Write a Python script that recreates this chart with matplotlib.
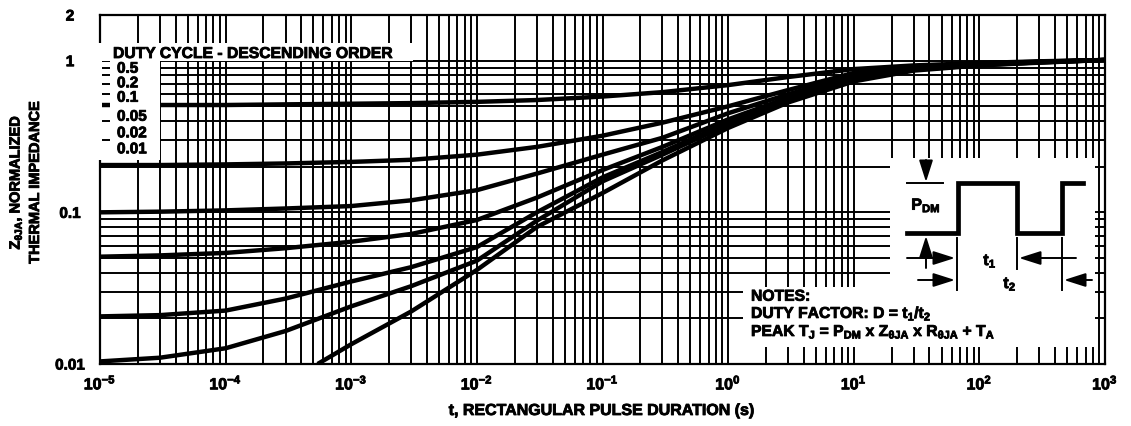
import numpy as np
import matplotlib
matplotlib.use("Agg")
import matplotlib.pyplot as plt
from matplotlib.ticker import LogLocator, NullFormatter
from matplotlib.patches import Rectangle, FancyArrowPatch
from matplotlib.lines import Line2D
import matplotlib.patheffects as pe

plt.rcParams['font.family'] = ['Liberation Sans', 'DejaVu Sans']
plt.rcParams['font.weight'] = 'bold'
plt.rcParams['mathtext.fontset'] = 'custom'
plt.rcParams['mathtext.rm'] = 'Liberation Sans:bold'
plt.rcParams['mathtext.bf'] = 'Liberation Sans:bold'
plt.rcParams['mathtext.it'] = 'Liberation Sans:bold'

# ---------------- data ----------------
t = [1e-5, 3e-5, 1e-4, 3e-4, 1e-3, 3e-3, 1e-2, 3e-2, 0.1, 0.3, 1, 3, 10, 30, 100, 300, 1000]
z_d050 = [0.51, 0.51, 0.51, 0.515, 0.52, 0.525, 0.535, 0.55, 0.58, 0.62, 0.69, 0.78, 0.88, 0.93, 0.965, 0.99, 1.01]
z_d020 = [0.205, 0.205, 0.207, 0.21, 0.215, 0.222, 0.24, 0.27, 0.32, 0.39, 0.50, 0.64, 0.83, 0.91, 0.955, 0.985, 1.01]
z_d010 = [0.100, 0.101, 0.103, 0.106, 0.11, 0.12, 0.14, 0.18, 0.24, 0.31, 0.45, 0.60, 0.80, 0.895, 0.95, 0.98, 1.01]
z_d005 = [0.051, 0.052, 0.054, 0.058, 0.064, 0.072, 0.089, 0.125, 0.19, 0.27, 0.41, 0.57, 0.78, 0.885, 0.945, 0.98, 1.01]
z_d002 = [0.0206, 0.021, 0.0225, 0.027, 0.035, 0.0435, 0.059, 0.10, 0.17, 0.25, 0.39, 0.55, 0.76, 0.875, 0.94, 0.975, 1.01]
z_d001 = [0.0104, 0.011, 0.0127, 0.0165, 0.024, 0.0326, 0.048, 0.088, 0.16, 0.24, 0.38, 0.54, 0.75, 0.87, 0.935, 0.975, 1.01]
t_single = [5.4e-4, 1e-3, 3e-3, 1e-2, 3e-2, 0.1, 0.3, 1, 3, 10, 30, 100, 300, 1000]
z_single = [0.01, 0.0135, 0.0222, 0.0417, 0.08, 0.134, 0.22, 0.36, 0.53, 0.73, 0.86, 0.93, 0.97, 1.01]

duty_labels = ['0.5', '0.2', '0.1', '0.05', '0.02', '0.01']
x_exponents = [-5, -4, -3, -2, -1, 0, 1, 2, 3]
y_ticks = [0.01, 0.1, 1, 2]
y_ticklabels = ['0.01', '0.1', '1', '2']

# ---------------- figure ----------------
W, H = 1131, 426
fig = plt.figure(figsize=(W / 100, H / 100), dpi=100)
ax = fig.add_axes([100 / W, 1 - 364 / H, 1005 / W, 349 / H])

ax.set_xscale('log')
ax.set_yscale('log')
ax.set_xlim(1e-5, 1e3)
ax.set_ylim(0.01, 2)

for z in [z_d050, z_d020, z_d010, z_d005, z_d002, z_d001]:
    ax.plot(t, z, color='black', lw=3.2, zorder=3, solid_capstyle='butt')
ax.plot(t_single, z_single, color='black', lw=3.2, zorder=3, solid_capstyle='butt')

PE = [pe.withStroke(linewidth=0.6, foreground='black')]

ax.set_xticks([10.0 ** k for k in x_exponents])
ax.set_xticklabels([rf'$\mathbf{{10^{{{k}}}}}$' for k in x_exponents], fontsize=11.5)
ax.xaxis.set_minor_locator(LogLocator(base=10, subs=np.arange(2, 10), numticks=100))
ax.xaxis.set_minor_formatter(NullFormatter())
ax.set_yticks(y_ticks)
ax.set_yticklabels(y_ticklabels, fontsize=11, fontweight='bold')
ax.yaxis.set_minor_locator(LogLocator(base=10, subs=np.arange(2, 10), numticks=100))
ax.yaxis.set_minor_formatter(NullFormatter())
ax.tick_params(which='both', length=0)
ax.tick_params(axis='x', pad=7)
ax.tick_params(axis='y', pad=21.6)
for lab in ax.get_yticklabels():
    lab.set_horizontalalignment('center')
    lab.set_path_effects(PE)
for lab in ax.get_xticklabels():
    lab.set_path_effects(PE)
ax.grid(True, which='both', color='black', lw=1.4, zorder=1)
for s in ax.spines.values():
    s.set_linewidth(1.6)

def fx(x):
    return x / W

def fy(y):
    return 1 - y / H

def white_box(x0, y0, x1, y1):
    fig.add_artist(Rectangle((fx(x0), fy(y1)), (x1 - x0) / W, (y1 - y0) / H,
                             transform=fig.transFigure, fc='white', ec='none', zorder=5))

def ftext(x, y, s, **kw):
    kw.setdefault('fontweight', 'bold')
    kw.setdefault('zorder', 8)
    txt = fig.text(fx(x), fy(y), s, **kw)
    txt.set_path_effects(PE)
    return txt

# legend boxes
white_box(98, 43, 413, 61)
white_box(110, 61, 160, 160)
white_box(98, 61, 102, 160)
# inset boxes
white_box(890, 158, 1095, 290)
white_box(743, 287, 1095, 347)

# axis labels
ftext(602, 415, 't, RECTANGULAR PULSE DURATION (s)', ha='center', va='baseline', fontsize=11.5)
ftext(16, 182, r'$\mathbf{Z_{θJA}}$, NORMALIZED', rotation=90, ha='center', va='center', fontsize=10.5)
ftext(35, 182, 'THERMAL IMPEDANCE', rotation=90, ha='center', va='center', fontsize=10.5)

# legend text
ftext(113, 58, 'DUTY CYCLE - DESCENDING ORDER', ha='left', va='baseline', fontsize=11.3)
for lab, yb in zip(duty_labels, [72.7, 87.3, 101.7, 120.7, 137.3, 153.3]):
    ftext(117, yb, lab, ha='left', va='baseline', fontsize=11)

# notes
ftext(751, 300.7, 'NOTES:', ha='left', va='baseline', fontsize=11.3)
ftext(751, 318, r'DUTY FACTOR: D = t$_\mathbf{1}$/t$_\mathbf{2}$', ha='left', va='baseline', fontsize=11.3)
ftext(751, 336, r'PEAK T$_\mathbf{J}$ = P$_\mathbf{DM}$ x Z$_\mathbf{θJA}$ x R$_\mathbf{θJA}$ + T$_\mathbf{A}$',
      ha='left', va='baseline', fontsize=11.3)

# pulse diagram
wave = [(907, 233), (958, 233), (958, 183), (1017, 183), (1017, 233), (1062, 233), (1062, 183), (1083, 183)]
fig.add_artist(Line2D([fx(p[0]) for p in wave], [fy(p[1]) for p in wave], transform=fig.transFigure,
                      color='black', lw=3.4, zorder=7, solid_joinstyle='miter'))

def seg(x0, y0, x1, y1, lw=1.4):
    fig.add_artist(Line2D([fx(x0), fx(x1)], [fy(y0), fy(y1)], transform=fig.transFigure,
                          color='black', lw=lw, zorder=7))

def arrow(x0, y0, x1, y1):
    fig.add_artist(FancyArrowPatch((fx(x0), fy(y0)), (fx(x1), fy(y1)), transform=fig.transFigure,
                                   arrowstyle='-|>,head_length=1.1,head_width=0.35', mutation_scale=12,
                                   color='black', lw=1.4, zorder=7, shrinkA=0, shrinkB=0))

seg(907, 183, 943, 183)
arrow(926, 160, 926, 182)
arrow(926, 268, 926, 236)
seg(957, 238, 957, 290)
seg(1017, 238, 1017, 269)
seg(1062, 238, 1062, 290)
arrow(907, 258, 955, 258)
arrow(1076, 258, 1019, 258)
arrow(918, 280, 955, 280)
arrow(1092, 280, 1064, 280)
ftext(926, 205, r'$\mathbf{P_{DM}}$', ha='center', va='center', fontsize=11.5)
ftext(990, 261, r'$\mathbf{t_1}$', ha='center', va='center', fontsize=11.5)
ftext(1010, 284, r'$\mathbf{t_2}$', ha='center', va='center', fontsize=11.5)

fig.savefig('out.png', dpi=100)
